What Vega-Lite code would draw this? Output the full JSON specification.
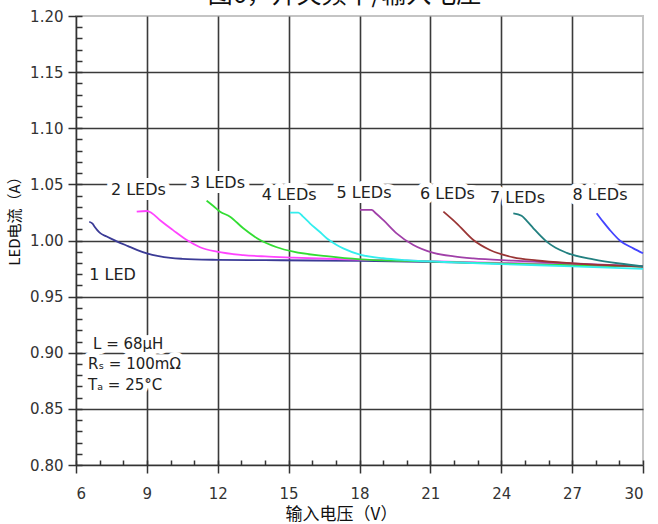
{
  "$schema": "https://vega.github.io/schema/vega-lite/v6.json",
  "width": 567,
  "height": 449,
  "autosize": {"type": "none"},
  "padding": {"left": 76, "top": 16, "right": 15, "bottom": 59},
  "title": {
    "text": "图6，开关频率/输入电压",
    "font": "Noto Sans CJK SC",
    "fontSize": 25,
    "fontWeight": "normal",
    "color": "#111",
    "frame": "group",
    "anchor": "middle",
    "baseline": "alphabetic",
    "offset": -19,
    "dx": -15
  },
  "datasets": {
    "curves": [
      {"s": "1 LED", "x": 6.56, "y": 1.0167},
      {"s": "1 LED", "x": 6.70, "y": 1.0150},
      {"s": "1 LED", "x": 6.78, "y": 1.0125},
      {"s": "1 LED", "x": 7.0, "y": 1.0070},
      {"s": "1 LED", "x": 7.3, "y": 1.0035},
      {"s": "1 LED", "x": 7.7, "y": 0.9995},
      {"s": "1 LED", "x": 8.2, "y": 0.9950},
      {"s": "1 LED", "x": 8.6, "y": 0.9915},
      {"s": "1 LED", "x": 9.0, "y": 0.9885},
      {"s": "1 LED", "x": 9.5, "y": 0.9860},
      {"s": "1 LED", "x": 10.0, "y": 0.9845},
      {"s": "1 LED", "x": 10.5, "y": 0.9837},
      {"s": "1 LED", "x": 11.0, "y": 0.9832},
      {"s": "1 LED", "x": 12.0, "y": 0.9828},
      {"s": "1 LED", "x": 14.0, "y": 0.9825},
      {"s": "1 LED", "x": 16.0, "y": 0.9822},
      {"s": "1 LED", "x": 18.0, "y": 0.9818},
      {"s": "1 LED", "x": 20.0, "y": 0.9812},
      {"s": "1 LED", "x": 22.0, "y": 0.9805},
      {"s": "1 LED", "x": 24.0, "y": 0.9797},
      {"s": "1 LED", "x": 26.0, "y": 0.9788},
      {"s": "1 LED", "x": 28.0, "y": 0.9779},
      {"s": "1 LED", "x": 30.0, "y": 0.9770},
      {"s": "2 LEDs", "x": 8.57, "y": 1.0257},
      {"s": "2 LEDs", "x": 9.0, "y": 1.0263},
      {"s": "2 LEDs", "x": 9.2, "y": 1.0245},
      {"s": "2 LEDs", "x": 9.56, "y": 1.0180},
      {"s": "2 LEDs", "x": 10.12, "y": 1.0090},
      {"s": "2 LEDs", "x": 10.69, "y": 1.0004},
      {"s": "2 LEDs", "x": 11.25, "y": 0.9940},
      {"s": "2 LEDs", "x": 11.96, "y": 0.9900},
      {"s": "2 LEDs", "x": 13.08, "y": 0.9870},
      {"s": "2 LEDs", "x": 14.0, "y": 0.9858},
      {"s": "2 LEDs", "x": 15.2, "y": 0.9848},
      {"s": "2 LEDs", "x": 17.0, "y": 0.9835},
      {"s": "2 LEDs", "x": 19.0, "y": 0.9825},
      {"s": "2 LEDs", "x": 21.0, "y": 0.9815},
      {"s": "2 LEDs", "x": 24.0, "y": 0.9800},
      {"s": "2 LEDs", "x": 27.0, "y": 0.9785},
      {"s": "2 LEDs", "x": 30.0, "y": 0.9770},
      {"s": "3 LEDs", "x": 11.53, "y": 1.0355},
      {"s": "3 LEDs", "x": 11.8, "y": 1.0310},
      {"s": "3 LEDs", "x": 12.1, "y": 1.0257},
      {"s": "3 LEDs", "x": 12.52, "y": 1.0212},
      {"s": "3 LEDs", "x": 13.08, "y": 1.0109},
      {"s": "3 LEDs", "x": 13.79, "y": 1.0004},
      {"s": "3 LEDs", "x": 14.5, "y": 0.9940},
      {"s": "3 LEDs", "x": 15.2, "y": 0.9900},
      {"s": "3 LEDs", "x": 16.61, "y": 0.9860},
      {"s": "3 LEDs", "x": 18.02, "y": 0.9832},
      {"s": "3 LEDs", "x": 20.0, "y": 0.9818},
      {"s": "3 LEDs", "x": 23.0, "y": 0.9800},
      {"s": "3 LEDs", "x": 26.0, "y": 0.9785},
      {"s": "3 LEDs", "x": 30.0, "y": 0.9768},
      {"s": "4 LEDs", "x": 15.06, "y": 1.0248},
      {"s": "4 LEDs", "x": 15.41, "y": 1.0248},
      {"s": "4 LEDs", "x": 15.6, "y": 1.0215},
      {"s": "4 LEDs", "x": 15.9, "y": 1.0153},
      {"s": "4 LEDs", "x": 16.3, "y": 1.0080},
      {"s": "4 LEDs", "x": 16.61, "y": 1.0020},
      {"s": "4 LEDs", "x": 17.0, "y": 0.9965},
      {"s": "4 LEDs", "x": 17.31, "y": 0.9930},
      {"s": "4 LEDs", "x": 18.02, "y": 0.9875},
      {"s": "4 LEDs", "x": 19.0, "y": 0.9842},
      {"s": "4 LEDs", "x": 20.0, "y": 0.9825},
      {"s": "4 LEDs", "x": 22.0, "y": 0.9805},
      {"s": "4 LEDs", "x": 24.0, "y": 0.9790},
      {"s": "4 LEDs", "x": 27.0, "y": 0.9770},
      {"s": "4 LEDs", "x": 30.0, "y": 0.9748},
      {"s": "5 LEDs", "x": 18.02, "y": 1.0272},
      {"s": "5 LEDs", "x": 18.51, "y": 1.0272},
      {"s": "5 LEDs", "x": 18.7, "y": 1.0240},
      {"s": "5 LEDs", "x": 19.0, "y": 1.0183},
      {"s": "5 LEDs", "x": 19.57, "y": 1.0064},
      {"s": "5 LEDs", "x": 20.28, "y": 0.9960},
      {"s": "5 LEDs", "x": 21.13, "y": 0.9890},
      {"s": "5 LEDs", "x": 22.0, "y": 0.9858},
      {"s": "5 LEDs", "x": 22.82, "y": 0.9840},
      {"s": "5 LEDs", "x": 24.5, "y": 0.9820},
      {"s": "5 LEDs", "x": 27.0, "y": 0.9795},
      {"s": "5 LEDs", "x": 30.0, "y": 0.9770},
      {"s": "6 LEDs", "x": 21.55, "y": 1.0257},
      {"s": "6 LEDs", "x": 22.11, "y": 1.0153},
      {"s": "6 LEDs", "x": 22.82, "y": 1.0004},
      {"s": "6 LEDs", "x": 23.52, "y": 0.9915},
      {"s": "6 LEDs", "x": 24.51, "y": 0.9850},
      {"s": "6 LEDs", "x": 25.5, "y": 0.9822},
      {"s": "6 LEDs", "x": 27.05, "y": 0.9797},
      {"s": "6 LEDs", "x": 28.5, "y": 0.9780},
      {"s": "6 LEDs", "x": 30.0, "y": 0.9767},
      {"s": "7 LEDs", "x": 24.51, "y": 1.0242},
      {"s": "7 LEDs", "x": 24.86, "y": 1.0220},
      {"s": "7 LEDs", "x": 25.1, "y": 1.0170},
      {"s": "7 LEDs", "x": 25.36, "y": 1.0109},
      {"s": "7 LEDs", "x": 25.92, "y": 0.9990},
      {"s": "7 LEDs", "x": 26.3, "y": 0.9935},
      {"s": "7 LEDs", "x": 26.77, "y": 0.9890},
      {"s": "7 LEDs", "x": 27.9, "y": 0.9832},
      {"s": "7 LEDs", "x": 29.0, "y": 0.9795},
      {"s": "7 LEDs", "x": 30.0, "y": 0.9770},
      {"s": "8 LEDs", "x": 28.04, "y": 1.0242},
      {"s": "8 LEDs", "x": 28.3, "y": 1.0170},
      {"s": "8 LEDs", "x": 28.6, "y": 1.0093},
      {"s": "8 LEDs", "x": 29.03, "y": 0.9998},
      {"s": "8 LEDs", "x": 29.59, "y": 0.9930},
      {"s": "8 LEDs", "x": 30.0, "y": 0.9886}
    ],
    "labels": [
      {"t": "1 LED", "x": 7.55, "y": 0.9692},
      {"t": "2 LEDs", "x": 8.64, "y": 1.045},
      {"t": "3 LEDs", "x": 11.99, "y": 1.0508},
      {"t": "4 LEDs", "x": 15.02, "y": 1.0405},
      {"t": "5 LEDs", "x": 18.19, "y": 1.0427},
      {"t": "6 LEDs", "x": 21.72, "y": 1.0414},
      {"t": "7 LEDs", "x": 24.69, "y": 1.0383},
      {"t": "8 LEDs", "x": 28.18, "y": 1.0405}
    ],
    "notes": [
      {"t": "L = 68μH", "x": 6.72, "y": 0.9078},
      {"t": "Rₛ = 100mΩ", "x": 6.51, "y": 0.890},
      {"t": "Tₐ = 25°C", "x": 6.51, "y": 0.871}
    ]
  },
  "encoding": {
    "x": {"field": "x", "type": "quantitative", "scale": {"domain": [6, 30], "nice": false, "zero": false}, "axis": null},
    "y": {"field": "y", "type": "quantitative", "scale": {"domain": [0.8, 1.2], "nice": false, "zero": false}, "axis": null}
  },
  "layer": [
    {
      "data": {"name": "labels"},
      "mark": {"type": "text", "font": "DejaVu Sans", "fontSize": 16, "align": "center", "baseline": "middle", "stroke": "white", "strokeWidth": 10, "fill": "white", "strokeJoin": "round"},
      "encoding": {
        "x": {
          "field": "x", "type": "quantitative",
          "scale": {"domain": [6, 30], "nice": false, "zero": false},
          "axis": {
            "orient": "bottom",
            "title": "输入电压（V）",
            "values": [6, 9, 12, 15, 18, 21, 24, 27, 30],
            "tickSize": 8,
            "grid": true,
            "gridOpacity": {"condition": {"test": "datum.value > 6 && datum.value < 30", "value": 1}, "value": 0},
            "labelPadding": 13,
            "titleX": 265,
            "titleY": 49,
            "titleFontSize": 17,
            "titleBaseline": "middle",
            "titleAlign": "center"
          }
        },
        "y": {
          "field": "y", "type": "quantitative",
          "scale": {"domain": [0.8, 1.2], "nice": false, "zero": false},
          "axis": {
            "orient": "left",
            "title": "LED电流（A）",
            "values": [0.8, 0.85, 0.9, 0.95, 1.0, 1.05, 1.1, 1.15, 1.2],
            "format": ".2f",
            "tickSize": 8,
            "grid": true,
            "gridOpacity": {"condition": {"test": "datum.value > 0.805 && datum.value < 1.195", "value": 1}, "value": 0},
            "labelPadding": 5,
            "titleX": -62,
            "titleY": 201,
            "titleFontSize": 15,
            "titleAngle": 270,
            "titleBaseline": "middle",
            "titleAlign": "center"
          }
        },
        "text": {"field": "t"}
      }
    },
    {
      "data": {"name": "notes"},
      "mark": {"type": "text", "font": "DejaVu Sans", "fontSize": 15, "align": "left", "baseline": "middle", "stroke": "white", "strokeWidth": 10, "fill": "white", "strokeJoin": "round"},
      "encoding": {"text": {"field": "t"}}
    },
    {
      "data": {"name": "curves"},
      "mark": {"type": "line", "strokeWidth": 1.8, "interpolate": "monotone"},
      "encoding": {
        "x": {
          "field": "x", "type": "quantitative",
          "scale": {"domain": [6, 30], "nice": false, "zero": false},
          "axis": {
            "orient": "top",
            "offset": -449,
            "title": null,
            "values": [6,7,8,9,10,11,12,13,14,15,16,17,18,19,20,21,22,23,24,25,26,27,28,29,30],
            "labels": false,
            "domain": false,
            "grid": false,
            "tickSize": 5
          }
        },
        "y": {
          "field": "y", "type": "quantitative",
          "scale": {"domain": [0.8, 1.2], "nice": false, "zero": false},
          "axis": {
            "orient": "right",
            "offset": -567,
            "title": null,
            "values": [0.8,0.81,0.82,0.83,0.84,0.85,0.86,0.87,0.88,0.89,0.9,0.91,0.92,0.93,0.94,0.95,0.96,0.97,0.98,0.99,1.0,1.01,1.02,1.03,1.04,1.05,1.06,1.07,1.08,1.09,1.1,1.11,1.12,1.13,1.14,1.15,1.16,1.17,1.18,1.19,1.2],
            "labels": false,
            "domain": false,
            "grid": false,
            "tickSize": 6
          }
        },
        "color": {
          "field": "s", "type": "nominal", "legend": null,
          "scale": {
            "domain": ["1 LED", "2 LEDs", "3 LEDs", "4 LEDs", "5 LEDs", "6 LEDs", "7 LEDs", "8 LEDs"],
            "range": ["#3b3b96", "#ff44ff", "#33dd33", "#33eeee", "#a040a8", "#9a3535", "#228080", "#4444ff"]
          }
        },
        "order": {"field": "x", "type": "quantitative"}
      }
    },
    {
      "data": {"name": "labels"},
      "mark": {"type": "text", "font": "DejaVu Sans", "fontSize": 16, "align": "center", "baseline": "middle", "color": "#222"},
      "encoding": {"text": {"field": "t"}}
    },
    {
      "data": {"name": "notes"},
      "mark": {"type": "text", "font": "DejaVu Sans", "fontSize": 15, "align": "left", "baseline": "middle", "color": "#222"},
      "encoding": {"text": {"field": "t"}}
    }
  ],
  "resolve": {"axis": {"x": "independent", "y": "independent"}},
  "config": {
    "background": "white",
    "view": {"stroke": "#c4c4c4", "strokeWidth": 2},
    "axis": {
      "domainColor": "#333",
      "domainWidth": 1.6,
      "tickColor": "#333",
      "tickWidth": 1.5,
      "gridColor": "#3a3a3a",
      "gridWidth": 1.6,
      "labelFont": "DejaVu Sans",
      "labelFontSize": 15,
      "labelColor": "#333",
      "titleFont": "Noto Sans CJK SC",
      "titleFontWeight": "normal",
      "titleColor": "#111"
    }
  }
}
